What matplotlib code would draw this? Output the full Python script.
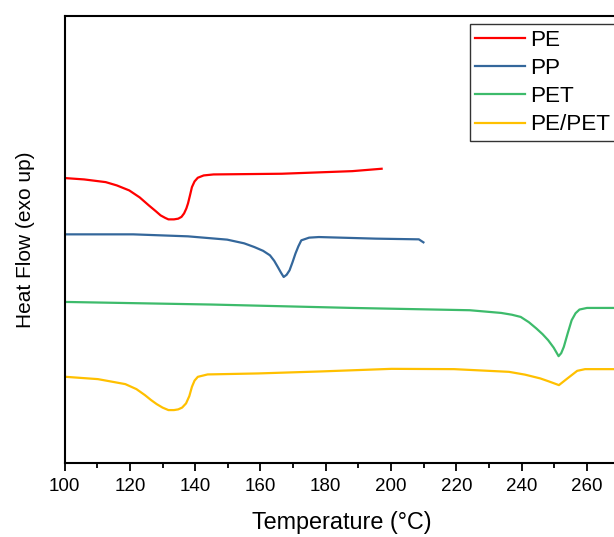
import matplotlib.pyplot as plt
from matplotlib.ticker import MultipleLocator

plt.rcParams['font.family'] = ['Liberation Sans', 'DejaVu Sans']

# DSC curves (temperature in C, heat flow in arbitrary units)
pe_t = [100.4, 106, 112.6, 116, 119.8, 123, 125.8, 128, 129.4, 130.8, 131.8, 133.5, 134.8, 135.8,
        136.6, 137.3, 137.8, 138.4, 139, 139.8, 140.8, 142.6, 145.6, 166.5, 188.1, 197.1]
pe_y = [285.3, 284, 281.3, 278, 273, 266, 258, 252, 248, 245.5, 244, 244, 244.7, 246.5,
        250, 255, 260, 268, 276.3, 282, 285.7, 288, 289, 289.7, 292.3, 294.7]

pp_t = [100.4, 121, 137.8, 149.8, 155, 158.1, 160.8, 162.9, 164.2, 165.3, 166.3, 167.1, 168,
        168.9, 169.8, 170.7, 171.6, 172.5, 174.9, 177.9, 195.3, 208.5, 209.9]
pp_y = [229, 229, 227, 223.7, 220, 216.3, 212.5, 208, 202.5, 196.3, 190.5, 186.3, 188.5,
        193, 201, 209.7, 217, 223, 225.7, 226.3, 224.7, 224, 221]

pet_t = [100.4, 145, 188.1, 224.1, 233.7, 237, 239.7, 242.2, 244.5, 246.4, 248.1, 249.8, 251.3,
         252.1, 252.9, 254.1, 255.3, 256.5, 257.7, 260, 268.2]
pet_y = [161.3, 158.7, 155.3, 153, 150.3, 148.5, 146.3, 141, 134.7, 129, 123, 115.5, 107,
         110, 116.3, 130, 143, 150, 153.7, 155.3, 155.3]

blend_t = [100.4, 110.2, 118.6, 122, 124.6, 126.5, 128.2, 130, 131.8, 133.5, 134.8, 136, 137.2,
           138.2, 139, 139.8, 140.8, 143.8, 159.3, 178.5, 200.1, 219.3, 236.1, 241, 245.7,
           248.5, 251.4, 254, 257, 259.4, 268.2]
blend_y = [86.3, 84, 79, 74, 68, 63, 59, 55.5, 53, 53, 53.7, 55.5, 59.7,
           67, 76.3, 82.5, 86.3, 88.7, 89.7, 91.7, 94.3, 94, 91.3, 88.5, 84.7,
           81.5, 78, 84.7, 92.3, 94, 94]

labels = ['PE', 'PP', 'PET', 'PE/PET']
colors = ['#ff0000', '#34679b', '#3dbb6b', '#ffc000']

fig = plt.figure(figsize=(6.14, 5.37), dpi=100)
ax = fig.add_axes([0.1052, 0.1378, 0.904, 0.833])

for t, y, lab, c in zip([pe_t, pp_t, pet_t, blend_t], [pe_y, pp_y, pet_y, blend_y], labels, colors):
    ax.plot(t, y, color=c, lw=1.6, label=lab)

ax.set_xlim(100, 270)
ax.set_ylim(0, 448)
ax.set_yticks([])
ax.xaxis.set_major_locator(MultipleLocator(20))
ax.xaxis.set_minor_locator(MultipleLocator(10))
ax.tick_params(axis='x', which='major', direction='out', length=6, width=1.3, labelsize=13.5, pad=5)
ax.tick_params(axis='x', which='minor', direction='out', length=3.5, width=1.3)
for s in ax.spines.values():
    s.set_linewidth(1.5)

ax.set_xlabel('Temperature (°C)', fontsize=16.8, labelpad=11)
ax.set_ylabel('Heat Flow (exo up)', fontsize=15, labelpad=21)

leg = ax.legend(loc='upper left', bbox_to_anchor=(0.73, 0.981), fontsize=16.2, frameon=True,
                fancybox=False, edgecolor='black', handlelength=2.2, handletextpad=0.25,
                labelspacing=0.32, borderpad=0.25, borderaxespad=0)
leg.get_frame().set_linewidth(1.0)

fig.savefig('out.png', dpi=100)
